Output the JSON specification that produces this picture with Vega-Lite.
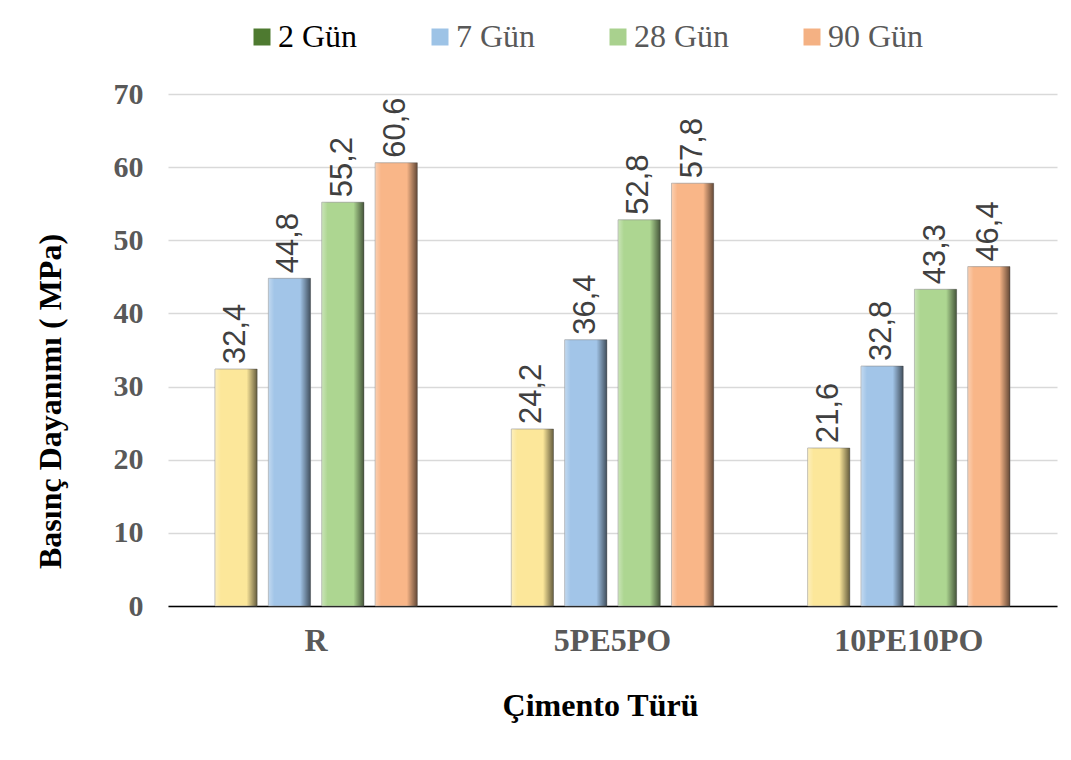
{
  "$schema": "https://vega.github.io/schema/vega-lite/v6.json",
  "width": 889,
  "height": 512,
  "autosize": {"type": "none"},
  "padding": {"left": 168, "top": 94, "right": 14, "bottom": 154},
  "background": "#ffffff",
  "config": {
    "view": {"stroke": null},
    "locale": {"number": {"decimal": ",", "thousands": ".", "grouping": [3], "currency": ["", " TL"]}}
  },
  "data": {
    "values": [
      {"cement": "R", "age": "2 Gün", "value": 32.4},
      {"cement": "R", "age": "7 Gün", "value": 44.8},
      {"cement": "R", "age": "28 Gün", "value": 55.2},
      {"cement": "R", "age": "90 Gün", "value": 60.6},
      {"cement": "5PE5PO", "age": "2 Gün", "value": 24.2},
      {"cement": "5PE5PO", "age": "7 Gün", "value": 36.4},
      {"cement": "5PE5PO", "age": "28 Gün", "value": 52.8},
      {"cement": "5PE5PO", "age": "90 Gün", "value": 57.8},
      {"cement": "10PE10PO", "age": "2 Gün", "value": 21.6},
      {"cement": "10PE10PO", "age": "7 Gün", "value": 32.8},
      {"cement": "10PE10PO", "age": "28 Gün", "value": 43.3},
      {"cement": "10PE10PO", "age": "90 Gün", "value": 46.4}
    ]
  },
  "encoding": {
    "x": {
      "field": "cement", "type": "nominal", "sort": ["R", "5PE5PO", "10PE10PO"],
      "scale": {"paddingInner": 0, "paddingOuter": 0},
      "axis": {
        "title": "Çimento Türü", "labelAngle": 0, "ticks": false,
        "domainColor": "#000000", "domainWidth": 1.5,
        "labelFont": "Liberation Serif", "labelFontWeight": "bold", "labelFontSize": 32, "labelColor": "#595959", "labelPadding": 19,
        "titleFont": "Liberation Serif", "titleFontWeight": "bold", "titleFontSize": 32, "titleColor": "#000000", "titlePadding": 34, "titleX": 432
      }
    },
    "xOffset": {
      "field": "age", "type": "nominal", "sort": ["2 Gün", "7 Gün", "28 Gün", "90 Gün"],
      "scale": {"paddingInner": 0.21, "paddingOuter": 0.88}
    },
    "y": {
      "field": "value", "type": "quantitative",
      "scale": {"domain": [0, 70], "nice": false},
      "axis": {
        "title": "Basınç Dayanımı ( MPa)", "values": [0, 10, 20, 30, 40, 50, 60, 70],
        "domain": false, "ticks": false, "grid": true, "gridColor": "#D9D9D9", "gridWidth": 1.3,
        "labelFont": "Liberation Serif", "labelFontWeight": "bold", "labelFontSize": 30, "labelColor": "#595959", "labelPadding": 25,
        "titleFont": "Liberation Serif", "titleFontWeight": "bold", "titleFontSize": 32, "titleColor": "#000000", "titlePadding": 46, "titleY": 307
      }
    }
  },
  "resolve": {"legend": {"color": "independent", "fill": "independent"}, "scale": {"color": "independent", "fill": "independent"}},
  "layer": [
    {
      "mark": {"type": "bar", "stroke": "#8c8c8c", "strokeWidth": 0.6},
      "encoding": {
        "fill": {
          "field": "age", "type": "nominal", "sort": ["2 Gün", "7 Gün", "28 Gün", "90 Gün"],
          "scale": {"domain": ["2 Gün", "7 Gün", "28 Gün", "90 Gün"], "range": ["#FCE79A", "#A2C5E8", "#ADD691", "#F9B688"]},
          "legend": null
        }
      }
    },
    {
      "mark": {
        "type": "bar",
        "fill": {
          "gradient": "linear", "x1": 0, "x2": 1, "y1": 0, "y2": 0,
          "stops": [
            {"offset": 0, "color": "rgba(255,255,255,0.35)"},
            {"offset": 0.14, "color": "rgba(255,255,255,0)"},
            {"offset": 0.75, "color": "rgba(0,0,0,0)"},
            {"offset": 1, "color": "rgba(0,0,0,0.6)"}
          ]
        }
      },
      "encoding": {}
    },
    {
      "mark": {"type": "text", "angle": 270, "align": "left", "baseline": "middle", "dx": 5, "font": "Liberation Sans", "fontSize": 31, "fill": "#404040"},
      "encoding": {
        "text": {"field": "value", "type": "quantitative", "format": ".1f"}
      }
    },
    {
      "mark": {"type": "bar", "opacity": 0},
      "encoding": {
        "color": {
          "field": "age", "type": "nominal", "sort": ["2 Gün", "7 Gün", "28 Gün", "90 Gün"],
          "scale": {"domain": ["2 Gün", "7 Gün", "28 Gün", "90 Gün"], "range": ["#4E7A30", "#9DC3E6", "#A9D18E", "#F4B183"]},
          "legend": {
            "title": null, "orient": "none", "direction": "horizontal", "legendX": 78, "legendY": -73,
            "padding": 0, "symbolType": "square", "symbolSize": 289, "symbolOpacity": 1, "symbolStrokeWidth": 0,
            "labelFont": "Liberation Serif", "labelFontSize": 32, "labelOffset": 0, "columnPadding": 66,
            "labelLimit": 300,
            "encode": {"labels": {"update": {"fill": {"signal": "datum.label == '2 Gün' ? '#000000' : '#595959'"}}}}
          }
        }
      }
    }
  ]
}
